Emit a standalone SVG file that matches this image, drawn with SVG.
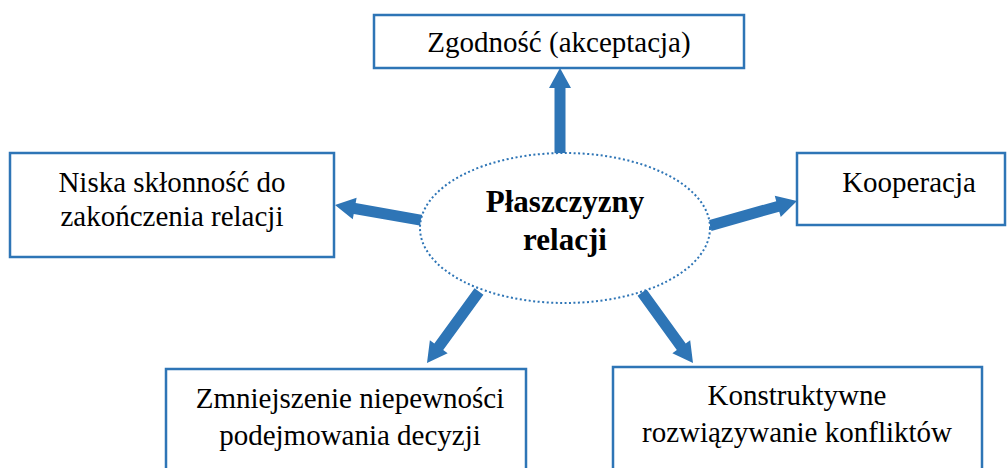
<svg xmlns="http://www.w3.org/2000/svg" width="1008" height="468" viewBox="0 0 1008 468">
  <style>
    .box { fill: #ffffff; stroke: #2E75B6; stroke-width: 2.5; }
    .arrow { fill: #2E75B6; stroke: none; }
    .hub { fill: #ffffff; stroke: #2E75B6; stroke-width: 2; stroke-dasharray: 2 2.5; }
  </style>
  <rect width="1008" height="468" fill="#ffffff"/>

  <g id="connectors">
    <polygon class="arrow" points="565.5,156 565.5,88 571,88 560,68 549,88 554.5,88 554.5,156"/>
    <polygon class="arrow" points="422.96,214.98 355.65,203.07 356.61,197.66 335,205 352.77,219.32 353.73,213.91 421.04,225.82"/>
    <polygon class="arrow" points="711.5,230.89 779.25,211.73 780.74,217.03 797,201 774.76,195.86 776.25,201.15 708.5,220.31"/>
    <polygon class="arrow" points="474.55,288.36 434.33,343.6 429.88,340.36 427,363 447.66,353.31 443.22,350.07 483.45,294.84"/>
    <polygon class="arrow" points="637.55,295.83 676.82,350.03 672.36,353.25 693,363 690.18,340.35 685.72,343.57 646.45,289.37"/>
  </g>

  <g id="center">
    <ellipse class="hub" cx="565" cy="228" rx="145" ry="75"/>
    <text x="565" y="212" font-family="'Liberation Serif', serif" font-size="31" font-weight="bold" text-anchor="middle">Płaszczyzny</text>
    <text x="565" y="250" font-family="'Liberation Serif', serif" font-size="31" font-weight="bold" text-anchor="middle">relacji</text>
  </g>

  <g id="zgodnosc">
    <rect class="box" x="374" y="15" width="370" height="53"/>
    <text x="559" y="52" font-family="'Liberation Serif', serif" font-size="29" text-anchor="middle">Zgodność (akceptacja)</text>
  </g>

  <g id="niska-sklonnosc">
    <rect class="box" x="10" y="153" width="324" height="104"/>
    <text x="172" y="192" font-family="'Liberation Serif', serif" font-size="29" text-anchor="middle">Niska skłonność do</text>
    <text x="172" y="226" font-family="'Liberation Serif', serif" font-size="29" text-anchor="middle">zakończenia relacji</text>
  </g>

  <g id="kooperacja">
    <rect class="box" x="797" y="153" width="208" height="72"/>
    <text x="909" y="192" font-family="'Liberation Serif', serif" font-size="29" text-anchor="middle">Kooperacja</text>
  </g>

  <g id="zmniejszenie-niepewnosci">
    <rect class="box" x="166" y="369" width="360" height="112"/>
    <text x="350" y="408" font-family="'Liberation Serif', serif" font-size="29" text-anchor="middle">Zmniejszenie niepewności</text>
    <text x="350" y="445" font-family="'Liberation Serif', serif" font-size="29" text-anchor="middle">podejmowania decyzji</text>
  </g>

  <g id="rozwiazywanie-konfliktow">
    <rect class="box" x="613" y="367" width="369" height="114"/>
    <text x="797" y="405" font-family="'Liberation Serif', serif" font-size="29" text-anchor="middle">Konstruktywne</text>
    <text x="797" y="442" font-family="'Liberation Serif', serif" font-size="29" text-anchor="middle">rozwiązywanie konfliktów</text>
  </g>
</svg>
